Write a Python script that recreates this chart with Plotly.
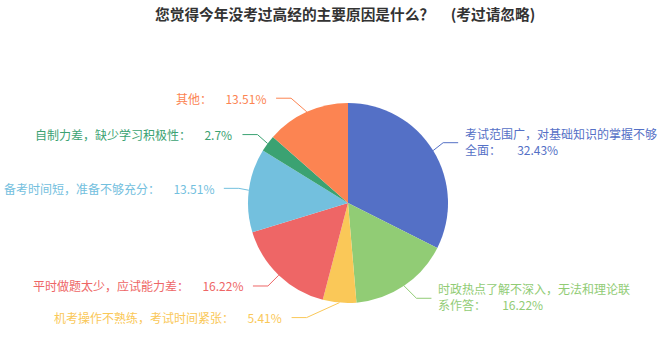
import math
import plotly.graph_objects as go

# ---------------- data ----------------
title_text = "您觉得今年没考过高经的主要原因是什么？\u00a0\u00a0\u00a0\u00a0\u00a0(考过请忽略)"
categories = [
    "考试范围广，对基础知识的掌握不够全面",
    "时政热点了解不深入，无法和理论联系作答",
    "机考操作不熟练，考试时间紧张",
    "平时做题太少，应试能力差",
    "备考时间短，准备不够充分",
    "自制力差，缺少学习积极性",
    "其他",
]
percentages = [32.43, 16.22, 5.41, 16.22, 13.51, 2.7, 13.51]
colors = ["#5470c6", "#91cc75", "#fac858", "#ee6666", "#73c0de", "#3ba272", "#fc8452"]

# ---------------- layout params ----------------
W, H = 661, 341
CX, CY, R = 348, 203, 100
LEN1, LEN2, LABEL_DIST = 15, 15, 5
FONT = "Microsoft YaHei, Noto Sans CJK SC, sans-serif"
WRAP_CHARS = 16  # right-side labels wrap (limited space)


def fx(x):
    return x / W


def fy(y):
    return 1 - y / H


fig = go.Figure()
fig.add_trace(go.Pie(
    labels=categories, values=percentages, sort=False, direction="clockwise",
    rotation=0, textinfo="none", hoverinfo="label+percent",
    marker=dict(colors=colors, line=dict(width=0)),
    domain=dict(x=[fx(CX - R), fx(CX + R)], y=[fy(CY + R), fy(CY - R)]),
    showlegend=False,
))

# ---------- label layout (echarts-like) ----------
total = sum(percentages)
items = []
cum = 0
for i, v in enumerate(percentages):
    th = 2 * math.pi * (cum + v / 2) / total
    cum += v
    s, c = math.sin(th), math.cos(th)
    d = 1 if s >= 0 else -1
    items.append(dict(i=i, dir=d, ex=CX + R * s, ey=CY - R * c, y=CY - (R + LEN1) * c))

RR = R + LEN1 + LEN2
for d in (1, -1):
    side = sorted([it for it in items if it["dir"] == d], key=lambda t: t["y"])
    up = [it for it in side if it["y"] < CY]
    down = [it for it in side if it["y"] >= CY]
    for lst, is_down in ((up, False), (down, True)):
        last = float("inf") if is_down else 0
        for it in lst:
            dy = abs(it["y"] - CY)
            dx = math.sqrt(RR * RR - dy * dy)
            if is_down and dx >= last:
                dx = last - 10
            if (not is_down) and dx <= last:
                dx = last + 10
            it["x"] = CX + dx * d
            last = dx

shapes = []
annotations = []
for it in items:
    i, d = it["i"], it["dir"]
    end_x = it["x"] - LABEL_DIST * d
    bend_x = end_x - LEN2 * d
    path = "M {:.5f},{:.5f} L {:.5f},{:.5f} L {:.5f},{:.5f}".format(
        fx(it["ex"]), fy(it["ey"]), fx(bend_x), fy(it["y"]), fx(end_x), fy(it["y"]))
    shapes.append(dict(type="path", path=path, xref="paper", yref="paper",
                       line=dict(color=colors[i], width=1)))
    name = categories[i] + "："
    pct = "{}%".format(percentages[i])
    if d > 0:
        if len(name) > WRAP_CHARS:
            txt = name[:WRAP_CHARS] + "<br>" + name[WRAP_CHARS:] + "\u00a0" * 6 + pct
            ty = it["y"] - 1.5
        else:
            txt = name + "\u00a0" * 6 + pct
            ty = it["y"]
        ax, anchor = it["x"], "left"
    else:
        txt = name + "\u00a0" * 5 + pct
        ty = it["y"]
        ax, anchor = it["x"] - 3, "right"
    annotations.append(dict(
        x=fx(ax), y=fy(ty), xref="paper", yref="paper", text=txt,
        showarrow=False, xanchor=anchor, yanchor="middle", align="left",
        font=dict(family=FONT, size=12, color=colors[i])))

annotations.append(dict(
    x=fx(345), y=fy(14), xref="paper", yref="paper", text="<b>" + title_text + "</b>",
    showarrow=False, xanchor="center", yanchor="middle",
    font=dict(family=FONT, size=14.7, color="#333333")))

fig.update_layout(
    width=W, height=H, margin=dict(l=0, r=0, t=0, b=0),
    paper_bgcolor="white", plot_bgcolor="white",
    shapes=shapes, annotations=annotations,
)
fig.write_html("out.html")
